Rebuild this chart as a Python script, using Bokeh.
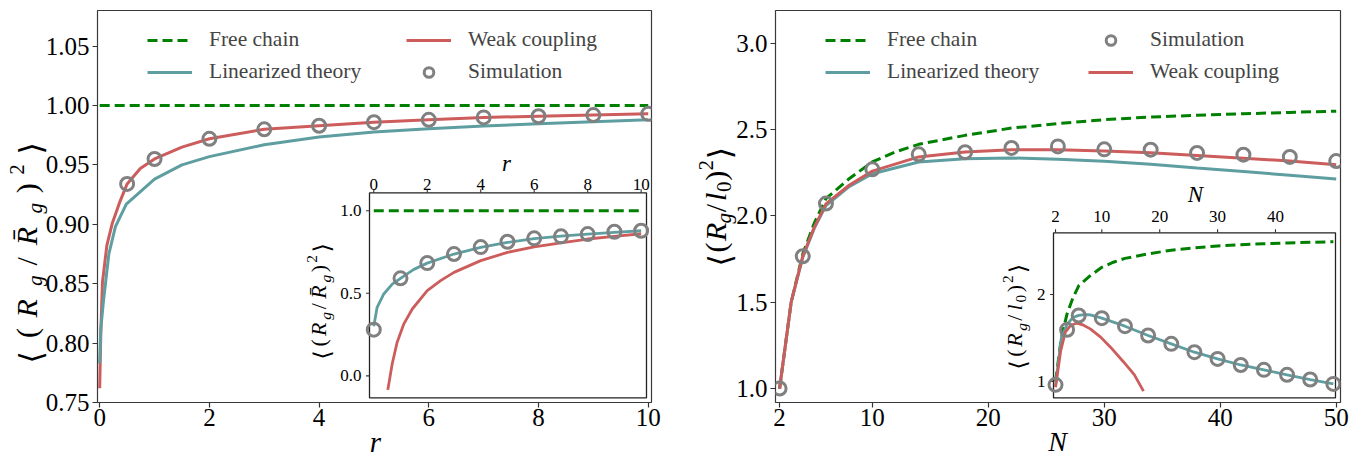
import math
from bokeh.plotting import figure
from bokeh.layouts import row
from bokeh.models import (Range1d, Label, Legend, LegendItem, FixedTicker,
                          PrintfTickFormatter, GridBox)
from bokeh.embed import file_html
from bokeh.resources import INLINE

# ---------------- data : left panel (main) ----------------
r_free = [0.0, 10.0]
free_r = [1.0, 1.0]
r_weak = [0.0, 0.02, 0.05, 0.13, 0.23, 0.36, 0.5, 0.74, 1.0, 1.5, 2, 3, 4, 5, 6, 7, 8, 9, 10]
weak_r = [0.762, 0.808, 0.851, 0.882, 0.901, 0.918, 0.934, 0.947, 0.955, 0.965, 0.972,
          0.980, 0.983, 0.986, 0.988, 0.990, 0.991, 0.992, 0.993]
r_lin = [0.0, 0.02, 0.07, 0.167, 0.287, 0.485, 1.0, 1.5, 2, 3, 4, 5, 6, 7, 8, 9, 10]
lin_r = [0.783, 0.812, 0.836, 0.875, 0.898, 0.917, 0.938, 0.950, 0.957, 0.967, 0.9735,
         0.9777, 0.9805, 0.9827, 0.9847, 0.9864, 0.9881]
r_sim = [0.5, 1, 2, 3, 4, 5, 6, 7, 8, 9, 10]
sim_r = [0.934, 0.955, 0.972, 0.980, 0.983, 0.986, 0.988, 0.990, 0.991, 0.992, 0.993]

# ---------------- data : left panel (inset) ----------------
ri_free = [0.0, 10.0]
free_ri = [1.0, 1.0]
ri_lin = [0, 0.125, 0.375, 0.69, 1, 1.5, 2, 3, 4, 5, 6, 7, 8, 9, 10]
lin_ri = [0.30, 0.415, 0.496, 0.556, 0.591, 0.645, 0.683, 0.738, 0.778, 0.808, 0.831,
          0.847, 0.859, 0.869, 0.879]
ri_weak = [0.525, 0.69, 0.875, 1.125, 1.44, 2.0, 2.5, 3, 4, 5, 6, 7, 8, 9, 10]
weak_ri = [-0.085, 0.073, 0.204, 0.315, 0.405, 0.516, 0.577, 0.627, 0.698, 0.748, 0.782,
           0.806, 0.829, 0.845, 0.861]
ri_sim = [0, 1, 2, 3, 4, 5, 6, 7, 8, 9, 10]
sim_ri = [0.280, 0.591, 0.683, 0.738, 0.780, 0.8125, 0.833, 0.845, 0.859, 0.873, 0.879]

# ---------------- data : right panel (main) ----------------
N_free = [2, 3, 4, 5, 6, 8, 10, 12, 14, 18, 22, 26, 30, 34, 38, 42, 46, 50]
free_N = [1.0, 1.5, 1.78, 1.96, 2.10, 2.216, 2.313, 2.371, 2.415, 2.467, 2.509, 2.535,
          2.558, 2.573, 2.583, 2.592, 2.600, 2.607]
N_curve = [2, 3, 4, 5, 6, 8, 10, 14, 18, 22, 26, 30, 34, 38, 42, 46, 50]
weak_N = [1.0, 1.502, 1.767, 1.936, 2.07, 2.178, 2.26, 2.342, 2.371, 2.384, 2.384, 2.376,
          2.366, 2.351, 2.335, 2.318, 2.297]
lin_N = [1.0, 1.5, 1.76, 1.93, 2.06, 2.17, 2.245, 2.313, 2.332, 2.336, 2.328, 2.317,
         2.300, 2.278, 2.257, 2.236, 2.214]
N_sim = [2, 4, 6, 10, 14, 18, 22, 26, 30, 34, 38, 42, 46, 50]
sim_N = [1.001, 1.767, 2.072, 2.270, 2.357, 2.369, 2.394, 2.403, 2.386, 2.384, 2.365,
         2.355, 2.342, 2.318]

# ---------------- data : right panel (inset) ----------------
Ni_lin = [2, 3, 4, 5, 6, 7, 8, 10, 14, 18, 22, 26, 30, 34, 38, 42, 46, 50]
lin_Ni = [0.95, 1.50, 1.66, 1.735, 1.76, 1.77, 1.765, 1.728, 1.636, 1.529, 1.433, 1.337,
          1.26, 1.19, 1.134, 1.077, 1.023, 0.973]
Ni_weak = [2, 2.9, 3.7, 4.6, 5.6, 6.6, 8, 9.8, 11.5, 13.8, 15.6, 17.2]
weak_Ni = [0.935, 1.356, 1.567, 1.644, 1.670, 1.655, 1.605, 1.51, 1.395, 1.222, 1.08, 0.889]
Ni_sim = [2, 4, 6, 10, 14, 18, 22, 26, 30, 34, 38, 42, 46, 50]
sim_Ni = [0.962, 1.594, 1.759, 1.728, 1.636, 1.529, 1.433, 1.337, 1.26, 1.19, 1.134,
          1.077, 1.023, 0.973]

# tick labels
left_xticks = [0, 2, 4, 6, 8, 10]
left_yticks = [0.75, 0.80, 0.85, 0.90, 0.95, 1.00, 1.05]
right_xticks = [2, 10, 20, 30, 40, 50]
right_yticks = [1.0, 1.5, 2.0, 2.5, 3.0]
li_xticks = [0, 2, 4, 6, 8, 10]
li_yticks = [0.0, 0.5, 1.0]
li_ylabels = ["0.0", "0.5", "1.0"]
ri_xticks = [2, 10, 20, 30, 40]
ri_yticks = [1, 2]
ri_ylabels = ["1", "2"]

SERIF = "Liberation Serif"
MATH = "DejaVu Sans"
GREEN = "#008000"
RED = "#cd5c5c"
TEAL = "#5f9ea0"
GRAY = "#808080"
DARK = "#333333"


class Frame:
    """page-pixel <-> data mapping of a figure's frame"""
    def __init__(self, L, R, T, B, xr, yr):
        self.L, self.R, self.T, self.B = L, R, T, B
        self.xr, self.yr = xr, yr

    def data(self, X, Y):
        x = self.xr[0] + (X - self.L) / (self.R - self.L) * (self.xr[1] - self.xr[0])
        y = self.yr[1] - (Y - self.T) / (self.B - self.T) * (self.yr[1] - self.yr[0])
        return x, y


def make_fig(width, offset, fr, xt, yt, yfmt):
    p = figure(width=width, height=458, x_range=Range1d(*fr.xr), y_range=Range1d(*fr.yr),
               output_backend="svg", toolbar_location=None,
               min_border_left=int(fr.L - offset), min_border_right=int(offset + width - fr.R),
               min_border_top=10, min_border_bottom=56)
    p.grid.visible = False
    p.outline_line_color = "#3a3a3a"
    p.outline_line_width = 1.2
    p.border_fill_color = "white"
    p.background_fill_color = "white"
    for ax in (p.xaxis[0], p.yaxis[0]):
        ax.axis_line_color = None
        ax.major_tick_out = 5
        ax.major_tick_in = 0
        ax.minor_tick_line_color = None
        ax.major_tick_line_color = DARK
        ax.major_tick_line_width = 1.2
        ax.major_label_text_font = SERIF
        ax.major_label_text_font_size = "25px"
        ax.major_label_text_color = "black"
    p.xaxis.ticker = FixedTicker(ticks=xt)
    p.yaxis.ticker = FixedTicker(ticks=yt)
    p.yaxis.formatter = PrintfTickFormatter(format=yfmt)
    p.xaxis.major_label_standoff = 1
    p.yaxis.major_label_standoff = 3
    return p


# transparent overlay figure whose data coordinates are page pixels (for all free texts)
ov = figure(width=1362, height=458, x_range=Range1d(0, 1362), y_range=Range1d(458, 0),
            output_backend="svg", toolbar_location=None, title=None,
            x_axis_type=None, y_axis_type=None, min_border=0,
            outline_line_color=None, background_fill_color=None, border_fill_color=None)


def add_label(X, Y, text, size, style="normal", font=SERIF, align="center", angle=0.0):
    """Y (or X for rotated text) is the middle line of the text box"""
    ov.add_layout(Label(x=X, y=Y, text=text, text_font=font, text_font_size=f"{size:.1f}px",
                        text_font_style=style, text_align=align, text_baseline="middle",
                        angle=angle, text_color="black"))


def vmath(pieces, cx, y_bottom, y_top, F):
    """rotated (bottom-to-top) formula made of pieces; cx = visual centre line"""
    total = sum(pc[5] for pc in pieces) * F
    s = (y_bottom - y_top) / total
    base_x = cx + 0.30 * F          # baseline of the normal-size text
    y = y_bottom
    for text, font, sf, style, perp, adv in pieces:
        size = sf * F
        mid_x = base_x - perp * F - 0.3375 * size
        add_label(mid_x, y, text, size, style=style, font=font, align="left",
                  angle=math.pi / 2)
        y -= adv * F * s


def pieces_rbar():
    return [("\u27e8", MATH, 1.05, "normal", -0.17, 0.50),
            ("(", SERIF, 1.0, "normal", 0.0, 0.40),
            ("R", SERIF, 1.0, "italic", 0.0, 0.62),
            ("g", SERIF, 0.7, "italic", -0.20, 0.40),
            ("/", SERIF, 1.0, "normal", 0.0, 0.40),
            ("R\u0304", SERIF, 1.0, "italic", 0.0, 0.62),
            ("g", SERIF, 0.7, "italic", -0.20, 0.40),
            (")", SERIF, 1.0, "normal", 0.0, 0.36),
            ("2", SERIF, 0.7, "normal", 0.42, 0.40),
            ("\u27e9", MATH, 1.05, "normal", -0.17, 0.45)]


def pieces_l0():
    return [("\u27e8", MATH, 1.05, "normal", -0.17, 0.50),
            ("(", SERIF, 1.0, "normal", 0.0, 0.40),
            ("R", SERIF, 1.0, "italic", 0.0, 0.62),
            ("g", SERIF, 0.7, "italic", -0.20, 0.40),
            ("/", SERIF, 1.0, "normal", 0.0, 0.40),
            ("l", SERIF, 1.0, "italic", 0.0, 0.32),
            ("0", SERIF, 0.7, "normal", -0.20, 0.40),
            (")", SERIF, 1.0, "normal", 0.0, 0.36),
            ("2", SERIF, 0.7, "normal", 0.42, 0.40),
            ("\u27e9", MATH, 1.05, "normal", -0.17, 0.45)]


def make_inset(p, fr, rect, xs, ys, xticks, yticks, ylabels, xlab_mid):
    L, R, T, B = rect
    x0, y1 = fr.data(L, T)
    x1, y0 = fr.data(R, B)
    sub = p.subplot(x_source=Range1d(*xs), y_source=Range1d(*ys),
                    x_target=Range1d(x0, x1), y_target=Range1d(y0, y1))
    sub.quad(left=xs[0], right=xs[1], bottom=ys[0], top=ys[1], fill_color="white",
             line_color="#222222", line_width=1.3)
    sub.ray(x=xticks, y=[ys[1]] * len(xticks), length=3.5, angle=math.pi / 2,
            length_units="screen", line_color=DARK, line_width=1.1)
    sub.ray(x=[xs[0]] * len(yticks), y=yticks, length=3.5, angle=math.pi,
            length_units="screen", line_color=DARK, line_width=1.1)
    for v in xticks:
        X = L + (v - xs[0]) / (xs[1] - xs[0]) * (R - L)
        add_label(X, xlab_mid, str(v), 17, align="center")
    for v, t in zip(yticks, ylabels):
        Y = T + (ys[1] - v) / (ys[1] - ys[0]) * (B - T)
        add_label(L - 8, Y, t, 17, align="right")
    return sub


# ======================= left figure =======================
fr1 = Frame(97, 651, 10, 402, (-0.04, 10.06), (0.75, 1.08))
p1 = make_fig(700, 0, fr1, left_xticks, left_yticks, "%.2f")

g_free = p1.line(r_free, free_r, line_color=GREEN, line_width=3, line_dash="10 5")
g_weak = p1.line(r_weak, weak_r, line_color=RED, line_width=3)
g_lin = p1.line(r_lin, lin_r, line_color=TEAL, line_width=3)
g_sim = p1.scatter(r_sim, sim_r, marker="circle", size=13, fill_color=None,
                   line_color=GRAY, line_width=3)

sub1 = make_inset(p1, fr1, (369, 646, 192.3, 397.3), (-0.16, 10.2), (-0.133, 1.109),
                  li_xticks, li_yticks, li_ylabels, 183.8)
sub1.line(ri_free, free_ri, line_color=GREEN, line_width=3, line_dash="10 5")
sub1.line(ri_weak, weak_ri, line_color=RED, line_width=2.8)
sub1.line(ri_lin, lin_ri, line_color=TEAL, line_width=2.8)
sub1.scatter(ri_sim, sim_ri, marker="circle", size=13, fill_color=None, line_color=GRAY,
             line_width=3)

# ======================= right figure =======================
fr2 = Frame(775, 1340, 10, 402, (1.65, 50.37), (0.92, 3.19))
p2 = make_fig(662, 700, fr2, right_xticks, right_yticks, "%.1f")

h_free = p2.line(N_free, free_N, line_color=GREEN, line_width=3, line_dash="10 5")
h_lin = p2.line(N_curve, lin_N, line_color=TEAL, line_width=3)
h_weak = p2.line(N_curve, weak_N, line_color=RED, line_width=3)
h_sim = p2.scatter(N_sim, sim_N, marker="circle", size=13, fill_color=None,
                   line_color=GRAY, line_width=3)

sub2 = make_inset(p2, fr2, (1053, 1335, 232.3, 397.3), (1.65, 50.37), (0.813, 2.709),
                  ri_xticks, ri_yticks, ri_ylabels, 215.5)
sub2.line(N_free, free_N, line_color=GREEN, line_width=3, line_dash="10 5")
sub2.line(Ni_lin, lin_Ni, line_color=TEAL, line_width=2.8)
sub2.line(Ni_weak, weak_Ni, line_color=RED, line_width=2.8)
sub2.scatter(Ni_sim, sim_Ni, marker="circle", size=13, fill_color=None, line_color=GRAY,
             line_width=3)


# ======================= legends =======================
def add_legend(p, items, loc):
    lg = Legend(items=items, location=loc, orientation="vertical", padding=0, margin=0,
                spacing=7, glyph_width=45, glyph_height=24, label_height=24,
                label_standoff=17, label_text_font=SERIF, label_text_font_size="21.5px",
                border_line_color=None, background_fill_alpha=0)
    p.add_layout(lg)


add_legend(p1, [LegendItem(label="Free chain", renderers=[g_free]),
                LegendItem(label="Linearized theory", renderers=[g_lin])], (50, 318))
add_legend(p1, [LegendItem(label="Weak coupling", renderers=[g_weak]),
                LegendItem(label="Simulation", renderers=[g_sim])], (309, 318))
add_legend(p2, [LegendItem(label="Free chain", renderers=[h_free]),
                LegendItem(label="Linearized theory", renderers=[h_lin])], (50, 318))
add_legend(p2, [LegendItem(label="Simulation", renderers=[h_sim]),
                LegendItem(label="Weak coupling", renderers=[h_weak])], (313, 318))

# ======================= axis labels =======================
add_label(375, 441, "r", 29, style="italic")
add_label(1057, 441, "N", 28, style="italic")
add_label(506, 162.8, "r", 23, style="italic")
add_label(1195, 194, "N", 23, style="italic")

vmath(pieces_rbar(), 27, 363, 131, 30)
vmath(pieces_l0(), 716, 266, 146, 30)
vmath(pieces_rbar(), 319, 359, 240, 22)
vmath(pieces_l0(), 1015, 369, 261, 22)

layout = GridBox(children=[(row(p1, p2), 0, 0), (ov, 0, 0)])
open("out.html", "w").write(file_html(layout, INLINE))
